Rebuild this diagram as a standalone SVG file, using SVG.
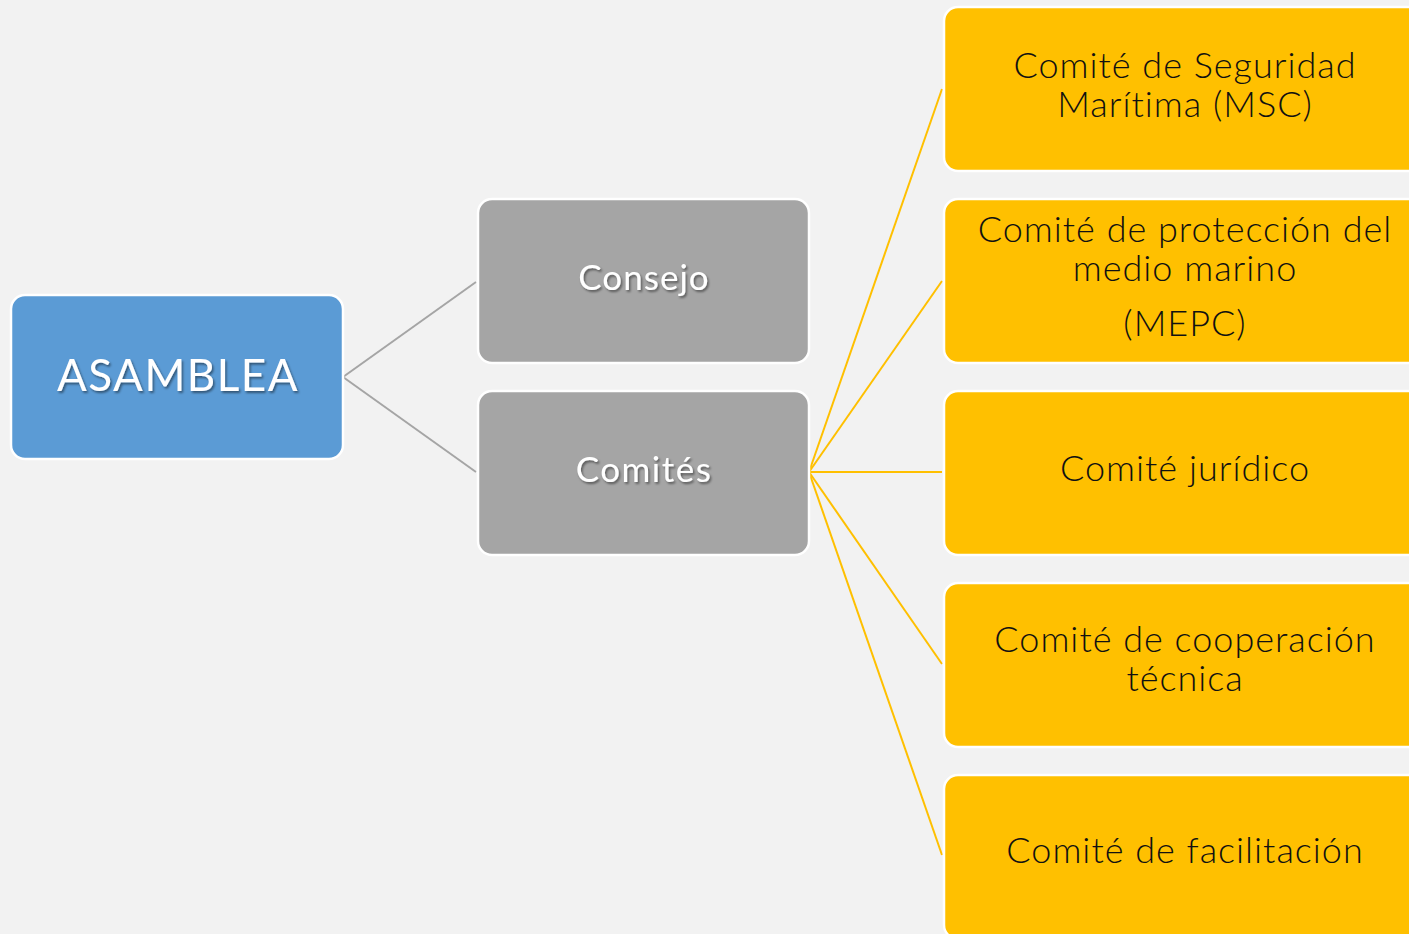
<svg xmlns="http://www.w3.org/2000/svg" width="1409" height="934" viewBox="0 0 1409 934">
<defs>
<filter id="sh" x="-10%" y="-30%" width="130%" height="160%">
<feDropShadow dx="1.5" dy="2" stdDeviation="1.2" flood-color="#000" flood-opacity="0.45"/>
</filter>
</defs>
<style>
.box{stroke:#fff;stroke-width:2.5}
.blue{fill:#5b9bd5}
.gray{fill:#a5a5a5}
.yel{fill:#ffc000}
.wt{font-family:Lato,"Liberation Sans",sans-serif;fill:#fff;text-anchor:middle;filter:url(#sh);font-variant-ligatures:none}
.bt{font-family:Lato,"Liberation Sans",sans-serif;font-weight:300;fill:#111;text-anchor:middle;font-size:36px;letter-spacing:1px;font-variant-ligatures:none}
.cg{stroke:#a5a5a5;stroke-width:2;fill:none}
.cy{stroke:#ffc000;stroke-width:2;fill:none}
</style>
<rect width="1409" height="934" fill="#f2f2f2"/>
<g id="connectors">
<line class="cg" x1="343" y1="377" x2="476" y2="282"/>
<line class="cg" x1="343" y1="377" x2="476" y2="472"/>
<line class="cy" x1="809" y1="472" x2="942" y2="89"/>
<line class="cy" x1="809" y1="472" x2="942" y2="281"/>
<line class="cy" x1="809" y1="472" x2="942" y2="472"/>
<line class="cy" x1="809" y1="472" x2="942" y2="664"/>
<line class="cy" x1="809" y1="472" x2="942" y2="855"/>
</g>
<g id="asamblea">
<rect class="box blue" x="11" y="295" width="332" height="164" rx="14"/>
<text class="wt" x="178" y="391" font-size="44" letter-spacing="1.5">ASAMBLEA</text>
</g>
<g id="consejo">
<rect class="box gray" x="478" y="199" width="331" height="164" rx="14"/>
<text class="wt" x="644" y="290" font-size="35" letter-spacing="1">Consejo</text>
</g>
<g id="comites">
<rect class="box gray" x="478" y="391" width="331" height="164" rx="14"/>
<text class="wt" x="644" y="482" font-size="35" letter-spacing="1.5">Comités</text>
</g>
<g id="msc">
<rect class="box yel" x="944" y="7" width="480" height="164" rx="14"/>
<text class="bt" x="1185" y="78">Comité de Seguridad</text>
<text class="bt" x="1185" y="117">Marítima (MSC)</text>
</g>
<g id="mepc">
<rect class="box yel" x="944" y="199" width="480" height="164" rx="14"/>
<text class="bt" x="1185" y="242">Comité de protección del</text>
<text class="bt" x="1185" y="281">medio marino</text>
<text class="bt" x="1185" y="336">(MEPC)</text>
</g>
<g id="juridico">
<rect class="box yel" x="944" y="391" width="480" height="164" rx="14"/>
<text class="bt" x="1185" y="481">Comité jurídico</text>
</g>
<g id="cooperacion">
<rect class="box yel" x="944" y="583" width="480" height="164" rx="14"/>
<text class="bt" x="1185" y="652">Comité de cooperación</text>
<text class="bt" x="1185" y="691">técnica</text>
</g>
<g id="facilitacion">
<rect class="box yel" x="944" y="775" width="480" height="164" rx="14"/>
<text class="bt" x="1185" y="863">Comité de facilitación</text>
</g>
</svg>
